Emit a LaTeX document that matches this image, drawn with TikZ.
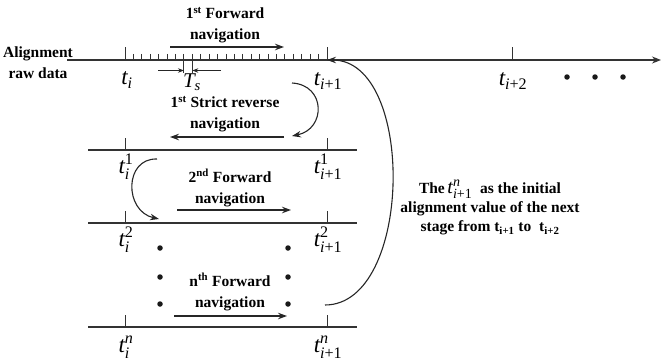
\documentclass[tikz,border=0pt]{standalone}
\usepackage{fontspec}
\setmainfont{Liberation Serif}
\usepackage{amsmath}
\usetikzlibrary{arrows.meta}
\tikzset{
  axis/.style={line width=1.1pt, draw=black!80},
  tk/.style={line width=0.9pt, draw=black!80},
  nav/.style={line width=1.1pt, draw=black!85, -{Stealth[length=9pt,width=6.5pt]}},
  smallarr/.style={line width=0.8pt, draw=black!85, -{Stealth[length=6pt,width=4.5pt]}},
  lbl/.style={font=\bfseries\fontsize{15.5}{21}\selectfont, align=center, inner sep=0pt},
  note/.style={font=\bfseries\fontsize{15.5}{19}\selectfont, align=center, inner sep=0pt},
  tl/.style={font=\fontsize{23}{26}\selectfont, inner sep=0pt},
  dot/.style={circle, fill=black!90, draw=none, inner sep=0pt, minimum size=5.5pt},
}
\newcommand\tlab[2]{\ensuremath{\text{\normalfont\itshape t}_{\text{\normalfont #1}}^{\text{\normalfont #2}}}}
\newcommand\tsb[1]{\ensuremath{\text{\normalfont\itshape t}_{\text{\normalfont #1}}}}
\begin{document}
\begin{tikzpicture}[x=1pt,y=-1pt]
\useasboundingbox (0,0) rectangle (661,361);

% ---------- top time axis ----------
\coordinate (L0s) at (67,60);
\coordinate (L0e) at (661,60);
\draw[axis, -{Stealth[length=9pt,width=7pt]}] (L0s) -- (L0e);
\coordinate (ti)  at (125,60);
\coordinate (ti1) at (327,60);
\coordinate (ti2) at (512,60);
\draw[tk] (ti) -- ++(0,-13);
\draw[tk] (ti1) -- ++(0,-13);
\draw[tk] (ti2) -- ++(0,-13);
\foreach \k in {1,...,23} \draw[tk] ({125+\k*8.417},54) -- ({125+\k*8.417},60);
% Ts marks
\coordinate (ts1) at ({125+7*8.417},73);
\coordinate (ts2) at ({125+8*8.417},73);
\draw[tk] (ts1) -- ++(0,-19);
\draw[tk] (ts2) -- ++(0,-19);
\coordinate (tsa) at (158,70.5);
\coordinate (tsb) at (221,70.5);
\draw[smallarr] (tsa) -- (ts1 |- tsa);
\draw[smallarr] (tsb) -- (ts2 |- tsb);
\node[tl, font=\fontsize{21}{24}\selectfont] (Ts) at (192,82) {\ensuremath{\text{\normalfont\itshape T}_{\text{\normalfont\itshape s}}}};

\node[lbl] (raw) at (38,63) {Alignment\\raw data};
\node[tl] (lti)  at (127,80) {\tsb{\itshape i}};
\node[tl] (lti1) at (328,81) {\tsb{{\itshape i}+1}};
\node[tl] (lti2) at (513,81) {\tsb{{\itshape i}+2}};
\node[dot] (d1) at (567,77) {};
\node[dot] (d2) at (595,77) {};
\node[dot] (d3) at (623,77) {};

\node[lbl] (f1) at (225,25) {1\textsuperscript{st} Forward\\navigation};
\coordinate (f1a) at (170,47);
\coordinate (f1b) at (284,47);
\draw[nav] (f1a) -- (f1b);

% ---------- second line ----------
\coordinate (L1s) at (88,150);
\coordinate (L1e) at (357,150);
\draw[axis] (L1s) -- (L1e);
\coordinate (a1) at (125,150);
\coordinate (b1) at (327,150);
\draw[tk] (a1) -- ++(0,-12);
\draw[tk] (b1) -- ++(0,-12);
\node[tl] (la1) at (126,167) {\tlab{\itshape i}{1}};
\node[tl] (lb1) at (328,167) {\tlab{{\itshape i}+1}{1}};

\node[lbl] (r1) at (225,114) {1\textsuperscript{st} Strict reverse\\navigation};
\coordinate (r1a) at (284,137);
\coordinate (r1b) at (170,137);
\draw[nav] (r1a) -- (r1b);
\coordinate (c1s) at (292,83);
\coordinate (c1e) at (292,136);
\draw[nav] (c1s) .. controls (326,85) and (326,129) .. (c1e);

% ---------- third line ----------
\coordinate (L2s) at (88,223);
\coordinate (L2e) at (357,223);
\draw[axis] (L2s) -- (L2e);
\coordinate (a2) at (125,223);
\coordinate (b2) at (327,223);
\draw[tk] (a2) -- ++(0,-12);
\draw[tk] (b2) -- ++(0,-12);
\node[tl] (la2) at (126,240) {\tlab{\itshape i}{2}};
\node[tl] (lb2) at (328,240) {\tlab{{\itshape i}+1}{2}};

\node[lbl] (f2) at (230,188) {2\textsuperscript{nd} Forward\\navigation};
\coordinate (f2a) at (177,210);
\coordinate (f2b) at (291,210);
\draw[nav] (f2a) -- (f2b);
\coordinate (c2s) at (157,159);
\coordinate (c2e) at (159,219);
\draw[nav] (c2s) .. controls (124,158) and (124,211) .. (c2e);

% ---------- dots between ----------
\node[dot] (e1) at (160,248) {};
\node[dot] (e2) at (160,277) {};
\node[dot] (e3) at (160,304) {};
\node[dot] (g1) at (288,248) {};
\node[dot] (g2) at (288,277) {};
\node[dot] (g3) at (288,304) {};

% ---------- last line ----------
\coordinate (L3s) at (88,327);
\coordinate (L3e) at (357,327);
\draw[axis] (L3s) -- (L3e);
\coordinate (an) at (125,327);
\coordinate (bn) at (327,327);
\draw[tk] (an) -- ++(0,-12);
\draw[tk] (bn) -- ++(0,-12);
\node[tl] (lan) at (126,347) {\tlab{\itshape i}{\itshape n}};
\node[tl] (lbn) at (328,347) {\tlab{{\itshape i}+1}{\itshape n}};

\node[lbl] (fn) at (230,292) {n\textsuperscript{th} Forward\\navigation};
\coordinate (fna) at (174,316);
\coordinate (fnb) at (287,316);
\draw[nav] (fna) -- (fnb);

% ---------- big return arrow ----------
\coordinate (bs) at (325,305);
\draw[nav] (bs) .. controls (413,305) and (416,60) .. (ti1);

\node[note] (txt) at (490,209) {The\,\smash{\fontsize{20}{19}\selectfont\tlab{{\itshape i}+1}{\itshape n}}\ \ as the initial\\alignment value of the next\\stage from t\textsubscript{i+1} to\ \ t\textsubscript{i+2}};
\end{tikzpicture}
\end{document}
